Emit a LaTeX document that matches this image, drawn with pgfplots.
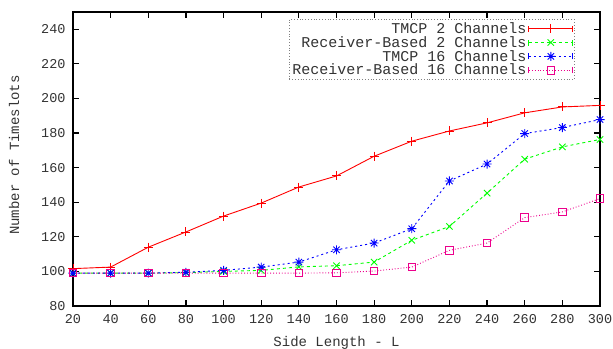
\documentclass[border=0pt]{standalone}
\usepackage{pgfplots}
\pgfplotsset{compat=1.18}
\usepackage{fontspec}
\setmainfont{Liberation Mono}
\pgfdeclareplotmark{gpstar}{%
  \pgfpathmoveto{\pgfqpoint{-\pgfplotmarksize}{0pt}}\pgfpathlineto{\pgfqpoint{\pgfplotmarksize}{0pt}}%
  \pgfpathmoveto{\pgfqpoint{0pt}{-\pgfplotmarksize}}\pgfpathlineto{\pgfqpoint{0pt}{\pgfplotmarksize}}%
  \pgfpathmoveto{\pgfqpoint{-0.707\pgfplotmarksize}{-0.707\pgfplotmarksize}}\pgfpathlineto{\pgfqpoint{0.707\pgfplotmarksize}{0.707\pgfplotmarksize}}%
  \pgfpathmoveto{\pgfqpoint{-0.707\pgfplotmarksize}{0.707\pgfplotmarksize}}\pgfpathlineto{\pgfqpoint{0.707\pgfplotmarksize}{-0.707\pgfplotmarksize}}%
  \pgfusepathqstroke}
\begin{document}
\begin{tikzpicture}[x=1pt,y=1pt]
\begin{axis}[name=ax,
  width=527pt, height=294pt, scale only axis,
  xmin=20, xmax=300, ymin=80, ymax=250,
  xtick={20,40,...,300}, ytick={80,100,...,240},
  tick align=inside, major tick length=6pt,
  axis line style={line width=1.6pt},
  every tick/.style={black, line width=1.2pt},
  /pgf/number format/assume math mode=true,
  tick label style={font=\fontsize{13.5}{15}\selectfont, text=black!80},
  xticklabel style={yshift=-5pt},
  yticklabel style={xshift=-4pt},
  xlabel={Side Length - L}, ylabel={Number of Timeslots},
  label style={font=\fontsize{14}{15}\selectfont, text=black!80},
  xlabel style={yshift=-6pt},
  ylabel style={yshift=15pt, xshift=4pt},
  legend style={at={(0.952,0.976)}, anchor=north east, draw=gray, dotted, line width=0.8pt,
    font=\fontsize{15}{17}\selectfont, text=black!80, row sep=-2.5pt, inner sep=1pt, fill=white},
  legend cell align=right, legend plot pos=right,
  legend image code/.code={\draw[mark repeat=2,mark phase=2,#1] plot coordinates {(0pt,0pt) (22pt,0pt) (44pt,0pt)};
    \draw[#1,solid,line width=0.9pt] (0pt,-3pt)--(0pt,3pt) (44pt,-3pt)--(44pt,3pt);},
]
\addplot[red, solid, line width=0.9pt, mark=+, mark size=4.5pt, mark options={solid}] coordinates {
(20,101.6) (40,102.5) (60,114) (80,122.8) (100,132) (120,139.5) (140,148.8) (160,155.2) (180,166.6) (200,175.3) (220,181.2) (240,185.9) (260,191.7) (280,195.1) (300,196)};
\addlegendentry{TMCP 2 Channels}
\addplot[green, dashed, line width=0.9pt, mark=x, mark size=4.5pt, mark options={solid}] coordinates {
(20,99) (40,99) (60,99) (80,99.3) (100,100) (120,100.6) (140,102.6) (160,103.3) (180,105.4) (200,118) (220,126) (240,145.3) (260,164.9) (280,172) (300,176.3)};
\addlegendentry{Receiver-Based 2 Channels}
\addplot[blue, dash pattern=on 2pt off 3pt, line width=0.9pt, mark=gpstar, mark size=4.5pt, mark options={solid}] coordinates {
(20,99) (40,99) (60,99) (80,99.5) (100,100.6) (120,102.5) (140,105.4) (160,112.5) (180,116.4) (200,124.7) (220,152.3) (240,162.1) (260,179.7) (280,183.2) (300,187.8)};
\addlegendentry{TMCP 16 Channels}
\addplot[magenta, dotted, line width=0.9pt, mark=square, mark size=3.8pt, mark options={solid}] coordinates {
(20,99) (40,99) (60,99) (80,99) (100,99) (120,99) (140,99) (160,99.2) (180,100.2) (200,102.5) (220,112.2) (240,116.4) (260,131.1) (280,134.4) (300,142.1)};
\addlegendentry{Receiver-Based 16 Channels}
\end{axis}
\pgfresetboundingbox
\path[use as bounding box] ([xshift=-73pt,yshift=-43pt]ax.south west) rectangle ([xshift=13pt,yshift=12pt]ax.north east);
\end{tikzpicture}
\end{document}
